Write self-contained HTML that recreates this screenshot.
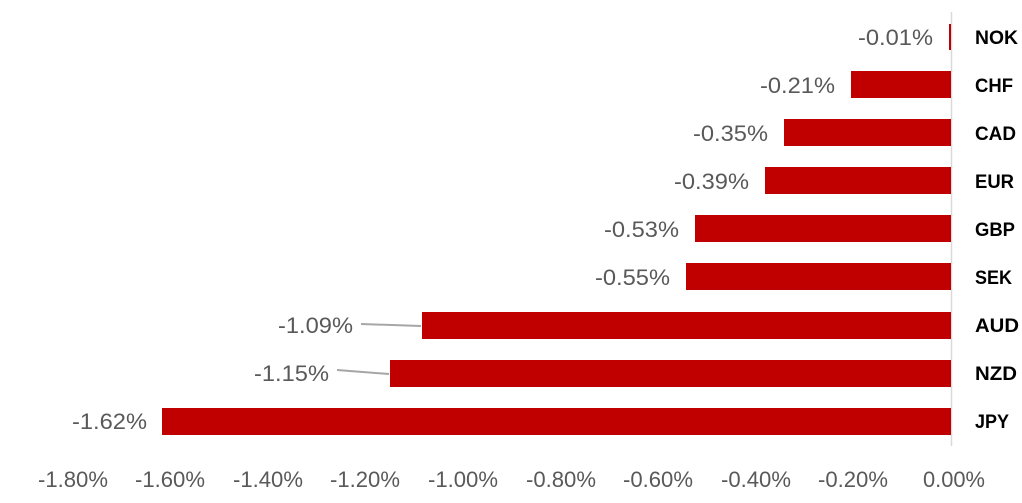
<!DOCTYPE html>
<html><head><meta charset="utf-8"><style>
body{margin:0;background:#fff}
text{font-family:"Liberation Sans",sans-serif}
</style></head><body>
<svg width="1022" height="498" xmlns="http://www.w3.org/2000/svg">
<line x1="951.5" y1="12" x2="951.5" y2="446" stroke="#d9d9d9" stroke-width="1.5"/>
<g fill="#c00000">
<rect x="949" y="24" width="2" height="26"/>
<rect x="851" y="71" width="100" height="27"/>
<rect x="784" y="119" width="167" height="27"/>
<rect x="765" y="167" width="186" height="27"/>
<rect x="695" y="215" width="256" height="27"/>
<rect x="686" y="263" width="265" height="27"/>
<rect x="422" y="312" width="529" height="27"/>
<rect x="390" y="360" width="561" height="27"/>
<rect x="162" y="408" width="789" height="27"/>
</g>
<g stroke="#a6a6a6" stroke-width="2">
<line x1="361" y1="324" x2="421" y2="326"/>
<line x1="337" y1="370" x2="389" y2="374"/>
</g>
<g fill="#595959" font-size="22" text-anchor="end">
<text x="933" y="45" textLength="75" lengthAdjust="spacingAndGlyphs">-0.01%</text>
<text x="835" y="93" textLength="75" lengthAdjust="spacingAndGlyphs">-0.21%</text>
<text x="768" y="141" textLength="75" lengthAdjust="spacingAndGlyphs">-0.35%</text>
<text x="749" y="189" textLength="75" lengthAdjust="spacingAndGlyphs">-0.39%</text>
<text x="679" y="237" textLength="75" lengthAdjust="spacingAndGlyphs">-0.53%</text>
<text x="670" y="285" textLength="75" lengthAdjust="spacingAndGlyphs">-0.55%</text>
<text x="353" y="333" textLength="75" lengthAdjust="spacingAndGlyphs">-1.09%</text>
<text x="329" y="381" textLength="75" lengthAdjust="spacingAndGlyphs">-1.15%</text>
<text x="147" y="429" textLength="75" lengthAdjust="spacingAndGlyphs">-1.62%</text>
</g>
<g fill="#000" font-size="19" font-weight="bold">
<text x="975" y="44" textLength="43" lengthAdjust="spacingAndGlyphs">NOK</text>
<text x="975" y="92" textLength="38" lengthAdjust="spacingAndGlyphs">CHF</text>
<text x="975" y="140" textLength="41" lengthAdjust="spacingAndGlyphs">CAD</text>
<text x="975" y="188" textLength="39" lengthAdjust="spacingAndGlyphs">EUR</text>
<text x="975" y="236" textLength="40" lengthAdjust="spacingAndGlyphs">GBP</text>
<text x="975" y="284" textLength="37" lengthAdjust="spacingAndGlyphs">SEK</text>
<text x="975" y="332" textLength="44" lengthAdjust="spacingAndGlyphs">AUD</text>
<text x="975" y="380" textLength="42" lengthAdjust="spacingAndGlyphs">NZD</text>
<text x="975" y="428" textLength="34" lengthAdjust="spacingAndGlyphs">JPY</text>
</g>
<g fill="#595959" font-size="22" text-anchor="middle">
<text x="73" y="487" textLength="70" lengthAdjust="spacingAndGlyphs">-1.80%</text>
<text x="170" y="487" textLength="70" lengthAdjust="spacingAndGlyphs">-1.60%</text>
<text x="268" y="487" textLength="70" lengthAdjust="spacingAndGlyphs">-1.40%</text>
<text x="365" y="487" textLength="70" lengthAdjust="spacingAndGlyphs">-1.20%</text>
<text x="463" y="487" textLength="70" lengthAdjust="spacingAndGlyphs">-1.00%</text>
<text x="561" y="487" textLength="70" lengthAdjust="spacingAndGlyphs">-0.80%</text>
<text x="658" y="487" textLength="70" lengthAdjust="spacingAndGlyphs">-0.60%</text>
<text x="756" y="487" textLength="70" lengthAdjust="spacingAndGlyphs">-0.40%</text>
<text x="853" y="487" textLength="70" lengthAdjust="spacingAndGlyphs">-0.20%</text>
<text x="954" y="487" textLength="62" lengthAdjust="spacingAndGlyphs">0.00%</text>
</g>
</svg>
</body></html>
